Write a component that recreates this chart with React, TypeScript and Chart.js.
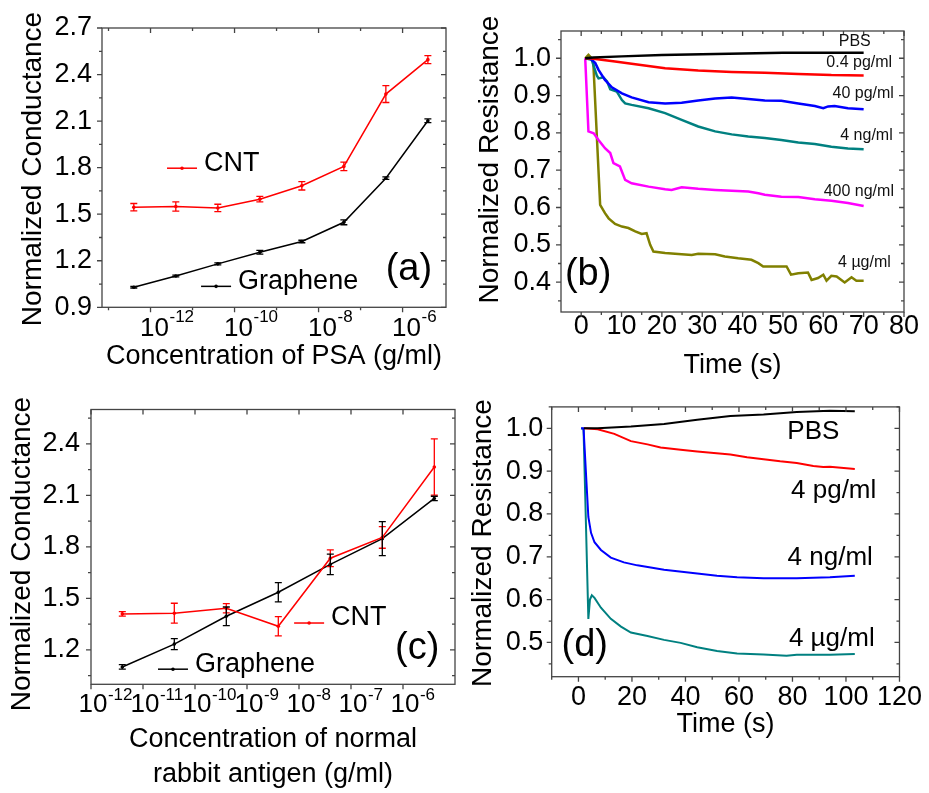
import React, { useEffect, useRef } from "react";
import { Chart, registerables } from "chart.js";

Chart.register(...registerables);

const FONT = "'Liberation Sans', Arial, Helvetica, sans-serif";

// ---------------- Panel (a): PSA ----------------
const psaConc = [4e-13, 4e-12, 4e-11, 4e-10, 4e-9, 4e-8, 4e-7, 4e-6];
const psaCnt = [1.545, 1.55, 1.54, 1.597, 1.683, 1.808, 2.274, 2.496];
const psaCntErr = [0.024, 0.03, 0.024, 0.018, 0.027, 0.027, 0.054, 0.026];
const psaGraphene = [1.029, 1.102, 1.18, 1.255, 1.324, 1.448, 1.732, 2.102];
const psaGrapheneErr = [0.005, 0.006, 0.006, 0.012, 0.008, 0.016, 0.008, 0.012];
const psaXExps = [-12, -10, -8, -6];
const psaXMinorExps = [-13, -11, -9, -7];
const psaYTicks = [0.9, 1.2, 1.5, 1.8, 2.1, 2.4, 2.7];
const psaYMinor = [1.05, 1.35, 1.65, 1.95, 2.25, 2.55];

// ---------------- Panel (b): PSA, resistance vs time ----------------
const bPbsT = [1, 3, 10, 20, 30, 40, 50, 60, 70];
const bPbsR = [1.0, 1.002, 1.005, 1.009, 1.011, 1.013, 1.015, 1.015, 1.015];
const b04pgT = [1, 2.6, 8.4, 12.5, 20.8, 29, 37.3, 45.5, 53.8, 62, 70];
const b04pgR = [1.0, 0.999, 0.991, 0.985, 0.973, 0.967, 0.963, 0.961, 0.958, 0.955, 0.954];
const b40pgT = [2.2, 3.5, 4.3, 5.9, 7.6, 10.1, 12.5, 16.7, 20.8, 24.9, 29, 33.2, 37.3, 41.4, 45.5, 49.6, 53.8, 57.9, 60, 61.2, 62.8, 66.1, 70];
const b40pgR = [1.0, 0.987, 0.969, 0.942, 0.922, 0.906, 0.895, 0.882, 0.879, 0.881, 0.887, 0.892, 0.895, 0.891, 0.887, 0.886, 0.879, 0.872, 0.866, 0.871, 0.872, 0.866, 0.863];
const b4ngT = [1.0, 2.6, 3.9, 4.3, 5.5, 6.4, 7.2, 8.8, 10.1, 10.9, 12.5, 16.7, 20.8, 24.9, 29, 33.2, 37.3, 41.4, 45.5, 49.6, 53.8, 57.9, 62, 66.1, 70];
const b4ngR = [1.0, 0.996, 0.953, 0.946, 0.949, 0.938, 0.917, 0.911, 0.888, 0.879, 0.875, 0.866, 0.853, 0.835, 0.817, 0.804, 0.796, 0.79, 0.786, 0.781, 0.774, 0.77, 0.763, 0.758, 0.756];
const b400ngT = [1.0, 1.8, 3.1, 4.3, 5.9, 7.2, 8.0, 9.6, 10.9, 12.5, 16.7, 20.8, 22.4, 24.9, 29, 33.2, 37.3, 41.4, 43.9, 45.5, 49.6, 53.8, 57.9, 62, 66.1, 70];
const b400ngR = [1.0, 0.804, 0.799, 0.781, 0.759, 0.746, 0.719, 0.71, 0.674, 0.665, 0.656, 0.649, 0.647, 0.654, 0.65, 0.647, 0.645, 0.643, 0.638, 0.634, 0.629, 0.628, 0.622, 0.618, 0.612, 0.604];
const b4ugT = [1, 1.8, 2.6, 3.0, 4.7, 5.9, 6.8, 8.4, 10.1, 11.7, 13.4, 15, 16.2, 17.1, 17.9, 20.8, 24.9, 27.4, 29, 33.2, 35.6, 38.9, 42.2, 43.9, 45.1, 48, 50.9, 52, 53.8, 56.2, 57.1, 58.7, 60, 60.8, 62, 63.3, 65.3, 67, 68.2, 70];
const b4ugR = [1.0, 1.009, 1.0, 0.99, 0.607, 0.585, 0.571, 0.556, 0.549, 0.545, 0.536, 0.529, 0.531, 0.5, 0.482, 0.478, 0.475, 0.473, 0.476, 0.475, 0.469, 0.464, 0.46, 0.451, 0.442, 0.442, 0.442, 0.42, 0.424, 0.426, 0.406, 0.411, 0.42, 0.404, 0.417, 0.415, 0.399, 0.413, 0.404, 0.404];
const bXTicks = [0, 10, 20, 30, 40, 50, 60, 70, 80];
const bXMinor = [5, 15, 25, 35, 45, 55, 65, 75];
const bYTicks = [0.4, 0.5, 0.6, 0.7, 0.8, 0.9, 1.0];
const bYMinor = [0.35, 0.45, 0.55, 0.65, 0.75, 0.85, 0.95, 1.05];

// ---------------- Panel (c): normal rabbit antigen ----------------
const rabConc = [4e-12, 4e-11, 4e-10, 4e-9, 4e-8, 4e-7, 4e-6];
const rabCnt = [1.41, 1.414, 1.443, 1.338, 1.734, 1.855, 2.265];
const rabCntErr = [0.013, 0.058, 0.027, 0.056, 0.049, 0.063, 0.164];
const rabGraphene = [1.101, 1.234, 1.396, 1.536, 1.698, 1.848, 2.082];
const rabGrapheneErr = [0.013, 0.032, 0.054, 0.056, 0.06, 0.099, 0.013];
const rabXExps = [-12, -11, -10, -9, -8, -7, -6];
const rabYTicks = [1.2, 1.5, 1.8, 2.1, 2.4];
const rabYMinor = [1.05, 1.35, 1.65, 1.95, 2.25, 2.55];

// ---------------- Panel (d): resistance vs time ----------------
const dPbsT = [2, 7.2, 19.6, 32, 44.4, 56.8, 69.2, 81.6, 94, 103.3];
const dPbsR = [1.0, 1.0, 1.004, 1.01, 1.02, 1.029, 1.032, 1.038, 1.041, 1.04];
const d4pgT = [2.2, 7.2, 13.4, 19.6, 25.8, 30.7, 38.2, 44.4, 56.8, 63, 69.2, 75.4, 81.6, 87.8, 91.5, 94, 103.3];
const d4pgR = [1.0, 0.998, 0.987, 0.97, 0.9625, 0.955, 0.95, 0.946, 0.939, 0.9325, 0.928, 0.923, 0.919, 0.912, 0.9095, 0.91, 0.905];
const d4ngT = [1, 1.9, 3.7, 4.7, 6, 8.4, 12.1, 17, 22, 32, 44.4, 51.8, 59.3, 69.2, 81.6, 94, 103.3];
const d4ngR = [1.0, 1.0, 0.793, 0.756, 0.734, 0.716, 0.698, 0.687, 0.68, 0.67, 0.661, 0.656, 0.652, 0.65, 0.65, 0.652, 0.656];
const d4ugT = [1, 1.9, 3.7, 4.3, 5, 6, 8.4, 12.1, 15.9, 19.6, 25.8, 32, 38.2, 44.4, 51.8, 59.3, 69.2, 77.8, 81.6, 94, 103.3];
const d4ugR = [1.0, 0.998, 0.555, 0.6, 0.61, 0.604, 0.581, 0.555, 0.537, 0.523, 0.515, 0.506, 0.499, 0.489, 0.48, 0.474, 0.472, 0.469, 0.471, 0.471, 0.473];
const dXTicks = [0, 20, 40, 60, 80, 100, 120];
const dXMinor = [-10, 10, 30, 50, 70, 90, 110];
const dYTicks = [0.5, 0.6, 0.7, 0.8, 0.9, 1.0];
const dYMinor = [0.45, 0.55, 0.65, 0.75, 0.85, 0.95, 1.05];

// ---------------- helpers ----------------
const pts = (xs: number[], ys: number[]) => xs.map((x, i) => ({ x, y: ys[i] }));

type TextItem = {
  text: string;
  x: number;
  y: number;
  coord: "data" | "area" | "px";
  font: string;
  align?: CanvasTextAlign;
  rotate?: number;
  color?: string;
};
type LegendItem = { text: string; color: string; fx: number; fy: number };
type Decor = {
  xMajor: number[];
  xMinor: number[];
  yMajor: number[];
  yMinor: number[];
  errors?: (number[] | null)[];
  texts?: TextItem[];
  legend?: LegendItem[];
  logExps?: number[];
  logDx?: number;
  logBaseDy?: number;
  logExpDy?: number;
};

function decor(d: Decor) {
  return {
    id: "decor",
    afterDatasetsDraw(chart: any) {
      if (!d.errors) return;
      const ctx = chart.ctx;
      const xs = chart.scales.x;
      const ys = chart.scales.y;
      ctx.save();
      chart.data.datasets.forEach((ds: any, i: number) => {
        const errs = d.errors![i];
        if (!errs) return;
        ctx.strokeStyle = ds.borderColor;
        ctx.lineWidth = 1.3;
        ds.data.forEach((p: any, j: number) => {
          const x = xs.getPixelForValue(p.x);
          const ya = ys.getPixelForValue(p.y - errs[j]);
          const yb = ys.getPixelForValue(p.y + errs[j]);
          ctx.beginPath();
          ctx.moveTo(x, ya);
          ctx.lineTo(x, yb);
          ctx.moveTo(x - 3.5, ya);
          ctx.lineTo(x + 3.5, ya);
          ctx.moveTo(x - 3.5, yb);
          ctx.lineTo(x + 3.5, yb);
          ctx.stroke();
        });
      });
      ctx.restore();
    },
    afterDraw(chart: any) {
      const ctx = chart.ctx;
      const xs = chart.scales.x;
      const ys = chart.scales.y;
      const { left, right, top, bottom } = chart.chartArea;
      const w = right - left;
      const h = bottom - top;
      ctx.save();
      // frame + ticks
      ctx.strokeStyle = "#444";
      ctx.lineWidth = 1.3;
      ctx.strokeRect(left, top, w, h);
      const xt = (vals: number[], len: number) => {
        vals.forEach((v) => {
          const px = xs.getPixelForValue(v);
          if (px < left - 0.5 || px > right + 0.5) return;
          ctx.beginPath();
          ctx.moveTo(px, bottom);
          ctx.lineTo(px, bottom + len);
          ctx.moveTo(px, top);
          ctx.lineTo(px, top + len);
          ctx.stroke();
        });
      };
      const yt = (vals: number[], len: number) => {
        vals.forEach((v) => {
          const py = ys.getPixelForValue(v);
          if (py < top - 0.5 || py > bottom + 0.5) return;
          ctx.beginPath();
          ctx.moveTo(left - len, py);
          ctx.lineTo(left, py);
          ctx.moveTo(right - len, py);
          ctx.lineTo(right, py);
          ctx.stroke();
        });
      };
      xt(d.xMajor, 5);
      xt(d.xMinor, 3);
      yt(d.yMajor, 5);
      yt(d.yMinor, 3);

      // log-axis labels with superscript exponents
      if (d.logExps) {
        ctx.fillStyle = "#000";
        ctx.textBaseline = "middle";
        ctx.textAlign = "left";
        d.logExps.forEach((e) => {
          const px = xs.getPixelForValue(Math.pow(10, e));
          ctx.font = `26px ${FONT}`;
          const w10 = ctx.measureText("10").width;
          const x0 = px + (d.logDx ?? 3) - w10 / 2;
          ctx.fillText("10", x0, bottom + (d.logBaseDy ?? 21));
          ctx.font = `17px ${FONT}`;
          ctx.fillText(String(e), x0 + w10 + 0.5, bottom + (d.logExpDy ?? 10));
        });
      }

      // legend entries
      (d.legend || []).forEach((it) => {
        const x0 = left + it.fx * w;
        const y0 = top + it.fy * h;
        ctx.strokeStyle = it.color;
        ctx.lineWidth = 1.5;
        ctx.beginPath();
        ctx.moveTo(x0, y0);
        ctx.lineTo(x0 + 30, y0);
        ctx.stroke();
        ctx.fillStyle = it.color;
        ctx.beginPath();
        ctx.arc(x0 + 15, y0, 1.8, 0, Math.PI * 2);
        ctx.fill();
        ctx.fillStyle = "#000";
        ctx.font = `27px ${FONT}`;
        ctx.textAlign = "left";
        ctx.textBaseline = "middle";
        ctx.fillText(it.text, x0 + 37, y0 - 5);
      });

      // free texts
      (d.texts || []).forEach((t) => {
        let x = t.x;
        let y = t.y;
        if (t.coord === "data") {
          x = xs.getPixelForValue(t.x);
          y = ys.getPixelForValue(t.y);
        } else if (t.coord === "area") {
          x = left + t.x * w;
          y = top + t.y * h;
        }
        ctx.save();
        ctx.translate(x, y);
        if (t.rotate) ctx.rotate(t.rotate);
        ctx.font = t.font;
        ctx.fillStyle = t.color || "#000";
        ctx.textAlign = t.align || "center";
        ctx.textBaseline = "middle";
        ctx.fillText(t.text, 0, 0);
        ctx.restore();
      });
      ctx.restore();
    },
  };
}

function linScale(min: number, max: number, ticks: number[], dec: number, pad: number, fix: { width?: number; height?: number }) {
  return {
    type: "linear",
    min,
    max,
    grid: { display: false, drawTicks: false },
    border: { display: false },
    afterBuildTicks: (s: any) => {
      s.ticks = ticks.map((v) => ({ value: v }));
    },
    afterFit: (s: any) => {
      if (fix.width != null) s.width = fix.width;
      if (fix.height != null) s.height = fix.height;
    },
    ticks: {
      font: { family: FONT, size: 27, lineHeight: 1 },
      color: "#000",
      padding: pad,
      autoSkip: false,
      maxRotation: 0,
      callback: (v: any) => Number(v).toFixed(dec),
    },
  };
}

function logScale(min: number, max: number, height: number, title: string | string[], titlePad: number, lineHeight: number) {
  return {
    type: "logarithmic",
    min,
    max,
    grid: { display: false, drawTicks: false },
    border: { display: false },
    ticks: { display: false },
    afterFit: (s: any) => {
      s.height = height;
    },
    title: {
      display: true,
      text: title,
      color: "#000",
      font: { family: FONT, size: 27, lineHeight },
      padding: { top: 0, bottom: titlePad },
    },
  };
}

const yTitle = (text: string, x: number, y: number): TextItem => ({
  text,
  x,
  y,
  coord: "px",
  font: `28px ${FONT}`,
  rotate: -Math.PI / 2,
});

const baseOpts = (padding: any, scales: any) => ({
  responsive: false,
  maintainAspectRatio: false,
  animation: false,
  devicePixelRatio: 1,
  layout: { padding },
  plugins: { legend: { display: false }, tooltip: { enabled: false }, title: { display: false } },
  scales,
});

const ptLine = (label: string, color: string, data: any[]) => ({
  label,
  data,
  borderColor: color,
  backgroundColor: color,
  borderWidth: 1.5,
  pointRadius: 1.8,
  pointBorderWidth: 0,
  pointBackgroundColor: color,
  tension: 0,
});

const trace = (label: string, color: string, data: any[], width: number) => ({
  label,
  data,
  borderColor: color,
  backgroundColor: color,
  borderWidth: width,
  pointRadius: 0,
  tension: 0,
});

// ---------------- chart configs ----------------
function configA(): any {
  return {
    type: "line",
    data: {
      datasets: [
        ptLine("CNT", "#ff0000", pts(psaConc, psaCnt)),
        ptLine("Graphene", "#000000", pts(psaConc, psaGraphene)),
      ],
    },
    options: baseOpts(
      { left: 0, top: 28, right: 19, bottom: 0 },
      {
        x: logScale(7e-14, 1.08e-5, 77.7, "Concentration of PSA (g/ml)", 12, 1.2),
        y: linScale(0.9, 2.7, psaYTicks, 1, 10, { width: 102 }),
      }
    ),
    plugins: [
      decor({
        xMajor: psaXExps.map((e) => Math.pow(10, e)),
        xMinor: psaXMinorExps.map((e) => Math.pow(10, e)),
        yMajor: psaYTicks,
        yMinor: psaYMinor,
        errors: [psaCntErr, psaGrapheneErr],
        logExps: psaXExps,
        logDx: 4,
        logBaseDy: 21.5,
        logExpDy: 10,
        legend: [
          { text: "CNT", color: "#ff0000", fx: 0.189, fy: 0.502 },
          { text: "Graphene", color: "#000000", fx: 0.288, fy: 0.925 },
        ],
        texts: [
          { text: "(a)", x: 0.892, y: 0.863, coord: "area", font: `38px ${FONT}` },
          yTitle("Normalized Conductance", 33, 169),
        ],
      }),
    ],
  };
}

function configB(): any {
  const lbl = (text: string, x: number, y: number): TextItem => ({
    text,
    x,
    y,
    coord: "data",
    font: `16px ${FONT}`,
    color: "#111",
  });
  return {
    type: "line",
    data: {
      datasets: [
        trace("PBS", "#000000", pts(bPbsT, bPbsR), 2.5),
        trace("0.4 pg/ml", "#ff0000", pts(b04pgT, b04pgR), 2.5),
        trace("40 pg/ml", "#0000ff", pts(b40pgT, b40pgR), 2.5),
        trace("4 ng/ml", "#008080", pts(b4ngT, b4ngR), 2.5),
        trace("400 ng/ml", "#ff00ff", pts(b400ngT, b400ngR), 2.5),
        trace("4 µg/ml", "#808000", pts(b4ugT, b4ugR), 2.5),
      ],
    },
    options: baseOpts(
      { left: 0, top: 31, right: 25, bottom: 0 },
      {
        x: {
          ...linScale(-5, 80, bXTicks, 0, 1, { height: 73 }),
          title: {
            display: true,
            text: "Time (s)",
            color: "#000",
            font: { family: FONT, size: 27, lineHeight: 1.2 },
            padding: { top: 0, bottom: 3 },
          },
        },
        y: linScale(0.32, 1.073, bYTicks, 1, 10, { width: 96 }),
      }
    ),
    plugins: [
      decor({
        xMajor: bXTicks,
        xMinor: bXMinor,
        yMajor: bYTicks,
        yMinor: bYMinor,
        texts: [
          lbl("PBS", 67.8, 1.044),
          lbl("0.4 pg/ml", 68.9, 0.987),
          lbl("40 pg/ml", 69.9, 0.904),
          lbl("4 ng/ml", 70.7, 0.792),
          lbl("400 ng/ml", 68.8, 0.642),
          lbl("4 µg/ml", 70.2, 0.452),
          { text: "(b)", x: 0.079, y: 0.868, coord: "area", font: `38px ${FONT}` },
          yTitle("Normalized Resistance", 25, 159.5),
        ],
      }),
    ],
  };
}

function configC(): any {
  return {
    type: "line",
    data: {
      datasets: [
        ptLine("CNT", "#ff0000", pts(rabConc, rabCnt)),
        ptLine("Graphene", "#000000", pts(rabConc, rabGraphene)),
      ],
    },
    options: baseOpts(
      { left: 0, top: 2.3, right: 10, bottom: 0 },
      {
        x: logScale(1e-12, 1e-5, 108.7, ["Concentration of normal", "rabbit antigen (g/ml)"], 1, 1.3),
        y: linScale(1.0, 2.6, rabYTicks, 1, 11, { width: 91 }),
      }
    ),
    plugins: [
      decor({
        xMajor: rabXExps.map((e) => Math.pow(10, e)),
        xMinor: [],
        yMajor: rabYTicks,
        yMinor: rabYMinor,
        errors: [rabCntErr, rabGrapheneErr],
        logExps: rabXExps,
        logDx: 2,
        logBaseDy: 21,
        logExpDy: 11,
        legend: [
          { text: "CNT", color: "#ff0000", fx: 0.558, fy: 0.777 },
          { text: "Graphene", color: "#000000", fx: 0.184, fy: 0.945 },
        ],
        texts: [
          { text: "(c)", x: 0.896, y: 0.87, coord: "area", font: `38px ${FONT}` },
          yTitle("Normalized Conductance", 22.7, 169),
        ],
      }),
    ],
  };
}

function configD(): any {
  const lbl = (text: string, x: number, y: number): TextItem => ({
    text,
    x,
    y,
    coord: "data",
    font: `26px ${FONT}`,
  });
  return {
    type: "line",
    data: {
      datasets: [
        trace("PBS", "#000000", pts(dPbsT, dPbsR), 2),
        trace("4 pg/ml", "#ff0000", pts(d4pgT, d4pgR), 2),
        trace("4 ng/ml", "#0000ff", pts(d4ngT, d4ngR), 2),
        trace("4 µg/ml", "#008080", pts(d4ugT, d4ugR), 2),
      ],
    },
    options: baseOpts(
      { left: 0, top: 6.7, right: 27.3, bottom: 0 },
      {
        x: {
          ...linScale(-10, 120, dXTicks, 0, 7, { height: 116.3 }),
          title: {
            display: true,
            text: "Time (s)",
            color: "#000",
            font: { family: FONT, size: 27, lineHeight: 1.2 },
            padding: { top: 0, bottom: 51.8 },
          },
        },
        y: linScale(0.42, 1.05, dYTicks, 1, 8.4, { width: 86.7 }),
      }
    ),
    plugins: [
      decor({
        xMajor: dXTicks,
        xMinor: dXMinor,
        yMajor: dYTicks,
        yMinor: dYMinor,
        texts: [
          lbl("PBS", 87.8, 0.991),
          lbl("4 pg/ml", 95.4, 0.855),
          lbl("4 ng/ml", 94.1, 0.697),
          lbl("4 µg/ml", 94.7, 0.508),
          { text: "(d)", x: 0.095, y: 0.886, coord: "area", font: `38px ${FONT}` },
          yTitle("Normalized Resistance", 18.3, 158),
        ],
      }),
    ],
  };
}

function Panel(props: { make: () => any; left: number; top: number; width: number; height: number }) {
  const ref = useRef<HTMLCanvasElement>(null);
  useEffect(() => {
    const chart = new Chart(ref.current as HTMLCanvasElement, props.make());
    return () => chart.destroy();
  }, []);
  return (
    <canvas
      ref={ref}
      width={props.width}
      height={props.height}
      style={{ position: "absolute", left: props.left, top: props.top, width: props.width, height: props.height }}
    />
  );
}

export default function App() {
  return (
    <div style={{ position: "absolute", left: 0, top: 0, width: 929, height: 793, background: "#fff", overflow: "hidden" }}>
      <Panel make={configA} left={0} top={0} width={465} height={385} />
      <Panel make={configB} left={465} top={0} width={464} height={385} />
      <Panel make={configC} left={0} top={385} width={465} height={408} />
      <Panel make={configD} left={465} top={385} width={464} height={408} />
    </div>
  );
}
